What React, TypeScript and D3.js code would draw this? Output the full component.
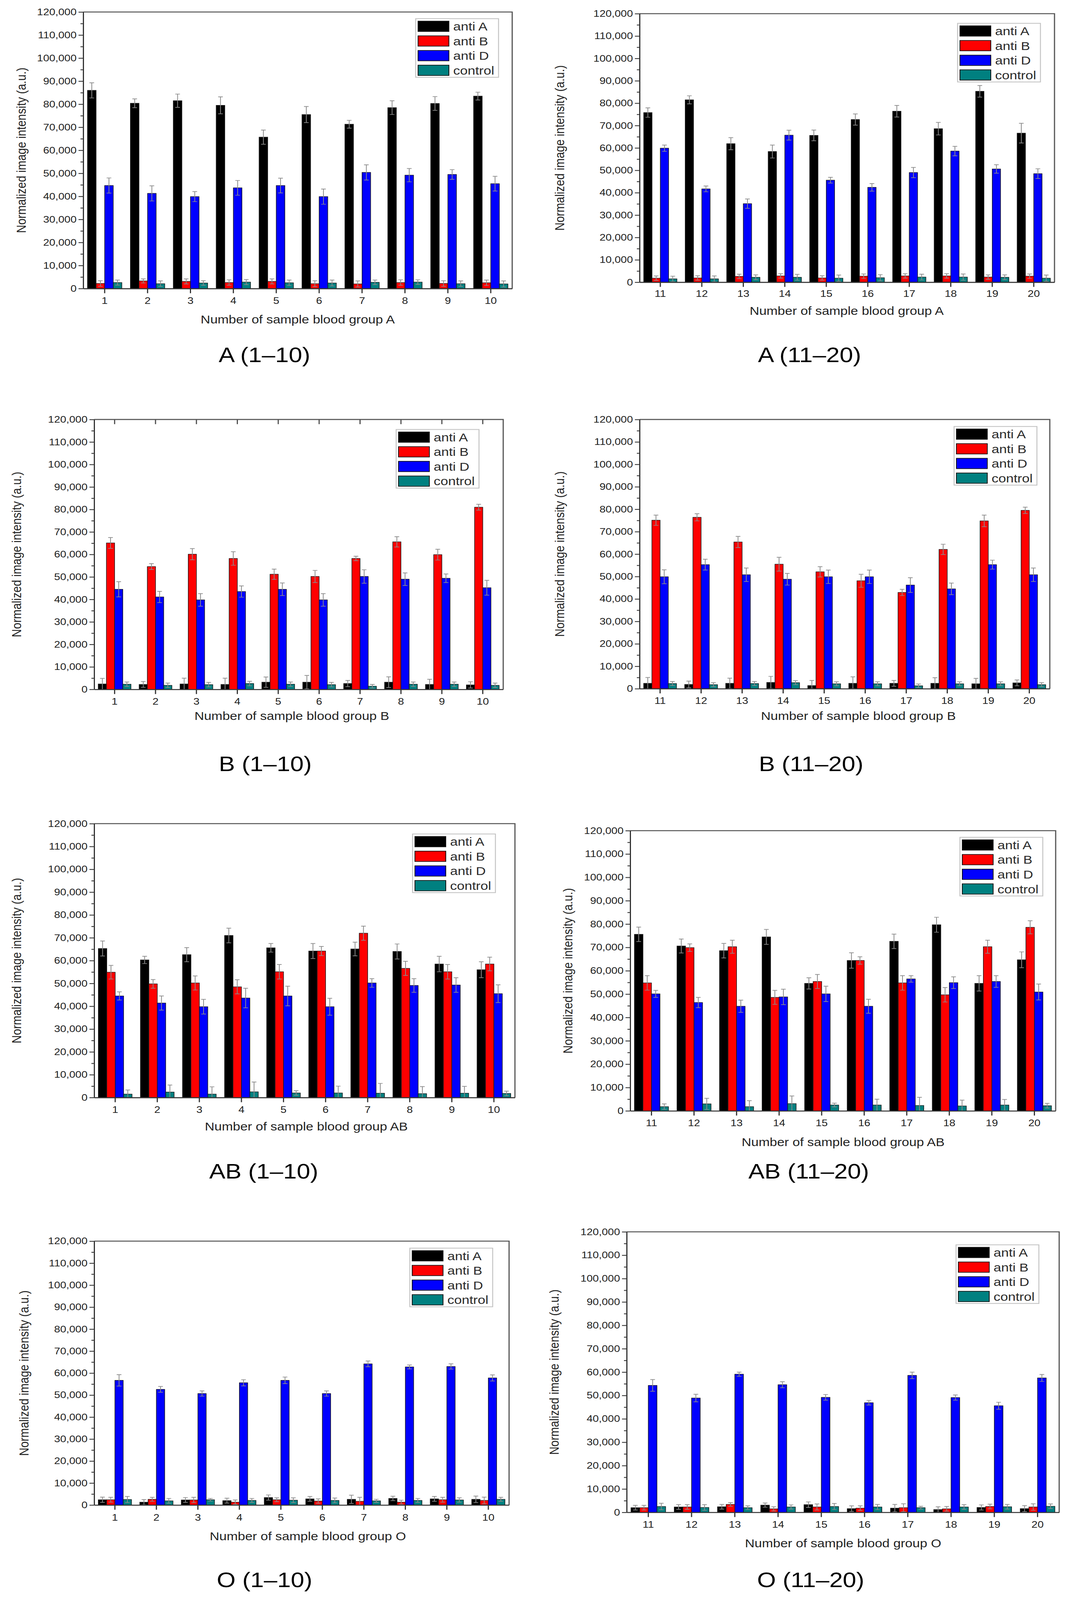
import { useEffect, useRef } from 'react';
import * as d3 from 'd3';

const WIDTH = 2731;
const HEIGHT = 4802;
const FONT = "'Liberation Sans', Arial, Helvetica, sans-serif";

const seriesNames = ['anti A', 'anti B', 'anti D', 'control'];
const seriesColors = ['#000000', '#ff0000', '#0000ff', '#008080'];
const samplesLow = ['1', '2', '3', '4', '5', '6', '7', '8', '9', '10'];
const samplesHigh = ['11', '12', '13', '14', '15', '16', '17', '18', '19', '20'];
const yMajorTicks = [0, 10000, 20000, 30000, 40000, 50000, 60000, 70000, 80000, 90000, 100000, 110000, 120000];
const yMinorTicks = [5000, 15000, 25000, 35000, 45000, 55000, 65000, 75000, 85000, 95000, 105000, 115000];

// blood group A, samples 1-10
const aLowAntiA = [86000, 80400, 81500, 79500, 65700, 75500, 71300, 78500, 80300, 83500];
const aLowAntiAErr = [3300, 1900, 2900, 3700, 3100, 3500, 1700, 3000, 3000, 1700];
const aLowAntiB = [2200, 3300, 3100, 2600, 3100, 2100, 2000, 2600, 2200, 2500];
const aLowAntiBErr = [1200, 900, 1100, 1200, 1100, 1300, 1300, 1200, 1200, 1200];
const aLowAntiD = [44700, 41300, 39900, 43700, 44700, 39900, 50400, 49200, 49500, 45500];
const aLowAntiDErr = [3300, 3300, 2200, 3200, 3200, 3300, 3300, 2900, 2100, 3200];
const aLowControl = [2600, 2100, 2400, 2800, 2500, 2400, 2700, 2800, 2100, 2000];
const aLowControlErr = [1100, 1200, 1000, 1100, 1200, 1300, 1000, 1000, 1200, 1300];

// blood group A, samples 11-20
const aHighAntiA = [75800, 81500, 61900, 58400, 65600, 72700, 76400, 68600, 85300, 66600];
const aHighAntiAErr = [2100, 1800, 2700, 2900, 2400, 2500, 2600, 2800, 2600, 4400];
const aHighAntiB = [1800, 1900, 2600, 2800, 1900, 2700, 2800, 2800, 2300, 2700];
const aHighAntiBErr = [1000, 1000, 1000, 1000, 1000, 1000, 1000, 1000, 1000, 1000];
const aHighAntiD = [59900, 41700, 35100, 65700, 45600, 42400, 49000, 58600, 50600, 48500];
const aHighAntiDErr = [1400, 1300, 2100, 2200, 1300, 1700, 2300, 2100, 1900, 2200];
const aHighControl = [1500, 1500, 2200, 2200, 1800, 2000, 2300, 2300, 2200, 1800];
const aHighControlErr = [1200, 1300, 1100, 1300, 1400, 1400, 1300, 1400, 1100, 1400];

// blood group B, samples 1-10
const bLowAntiA = [2400, 2200, 2400, 2200, 3200, 3200, 2600, 3200, 2200, 2000];
const bLowAntiAErr = [2500, 1300, 2600, 2800, 2300, 3000, 1400, 2400, 2300, 1400];
const bLowAntiB = [65100, 54600, 60100, 58200, 51200, 50200, 58200, 65600, 59900, 81000];
const bLowAntiBErr = [2400, 1300, 2500, 3000, 2300, 2700, 1000, 2300, 2400, 1300];
const bLowAntiD = [44500, 41100, 39800, 43500, 44500, 39800, 50200, 49000, 49400, 45200];
const bLowAntiDErr = [3400, 2500, 2800, 2500, 2800, 2800, 3000, 2800, 1900, 3300];
const bLowControl = [2300, 1800, 2100, 2600, 2300, 2100, 1400, 2300, 2300, 1800];
const bLowControlErr = [1000, 1000, 1000, 1000, 1000, 1000, 800, 1000, 1000, 1000];

// blood group B, samples 11-20
const bHighAntiA = [2400, 1900, 2400, 2800, 1400, 2400, 2400, 2400, 2200, 2600];
const bHighAntiAErr = [2600, 1500, 2300, 2700, 2300, 2900, 1300, 2500, 2400, 1300];
const bHighAntiB = [75100, 76400, 65400, 55500, 52100, 48100, 42900, 62100, 74800, 79500];
const bHighAntiBErr = [2300, 1600, 2500, 3100, 2300, 2900, 1400, 2300, 2600, 1400];
const bHighAntiD = [49900, 55300, 50800, 48800, 49900, 49900, 46200, 44500, 55300, 50800];
const bHighAntiDErr = [3100, 2400, 3000, 2600, 3000, 3000, 3300, 2600, 2000, 3000];
const bHighControl = [2300, 1800, 2300, 2700, 2200, 2200, 1300, 2200, 2200, 1800];
const bHighControlErr = [900, 900, 900, 900, 900, 900, 800, 900, 900, 900];

// blood group AB, samples 1-10
const abLowAntiA = [65300, 60300, 62600, 71000, 65600, 64200, 65100, 64000, 58500, 56000];
const abLowAntiAErr = [3300, 1600, 3100, 3200, 1900, 3300, 3000, 3300, 3400, 3500];
const abLowAntiB = [54900, 49800, 50200, 48500, 55100, 64200, 72000, 56600, 55100, 58500];
const abLowAntiBErr = [3000, 1900, 3100, 3100, 3200, 2000, 3100, 3100, 3200, 3000];
const abLowAntiD = [44500, 41400, 39800, 43600, 44500, 39800, 50200, 49100, 49300, 45500];
const abLowAntiDErr = [1800, 3100, 3200, 4300, 4300, 3700, 1900, 3000, 3200, 3900];
const abLowControl = [1500, 2400, 1500, 2500, 2000, 2000, 1900, 1700, 1900, 1800];
const abLowControlErr = [1800, 3100, 3200, 4300, 1000, 3000, 4300, 3100, 3000, 1000];

// blood group AB, samples 11-20
const abHighAntiA = [75600, 70600, 68600, 74500, 54600, 64400, 72600, 79700, 54600, 64700];
const abHighAntiAErr = [3100, 3000, 3100, 3200, 2400, 3300, 3100, 3200, 3300, 3400];
const abHighAntiB = [54800, 69900, 70300, 48600, 55400, 64400, 54800, 49700, 70300, 78600];
const abHighAntiBErr = [3100, 1600, 2800, 3000, 3000, 1600, 3100, 3100, 2800, 2800];
const abHighAntiD = [50100, 46400, 44800, 48800, 50100, 44800, 56500, 54900, 55400, 50900];
const abHighAntiDErr = [1500, 2200, 2600, 3300, 3300, 3000, 1400, 2500, 2500, 3400];
const abHighControl = [1800, 3000, 1800, 3100, 2500, 2500, 2300, 2100, 2500, 2200];
const abHighControlErr = [1200, 2400, 2600, 3300, 800, 2500, 3500, 2500, 2400, 1000];

// blood group O, samples 1-10
const oLowAntiA = [2400, 1300, 2300, 2000, 3400, 2800, 2600, 3000, 2800, 2600];
const oLowAntiAErr = [1200, 1200, 1100, 1100, 1200, 1100, 1900, 1000, 1100, 1500];
const oLowAntiB = [2400, 2600, 2300, 1300, 2400, 1800, 1700, 1300, 2400, 2100];
const oLowAntiBErr = [1100, 900, 1200, 1000, 900, 1000, 1800, 900, 1100, 1500];
const oLowAntiD = [56700, 52600, 50700, 55600, 56700, 50700, 64200, 62800, 63000, 57800];
const oLowAntiDErr = [2600, 1300, 1200, 1400, 1500, 1200, 1300, 900, 1200, 1400];
const oLowControl = [2500, 1900, 2400, 2100, 2200, 2100, 1900, 2100, 2300, 2600];
const oLowControlErr = [1400, 1100, 600, 900, 1100, 1100, 700, 900, 1000, 900];

// blood group O, samples 11-20
const oHighAntiA = [2000, 2300, 2400, 3100, 3300, 1600, 1800, 1200, 2100, 1600];
const oHighAntiAErr = [1000, 1000, 1000, 900, 1200, 1200, 1600, 1200, 1100, 1300];
const oHighAntiB = [2000, 2300, 3400, 1500, 2300, 1800, 2000, 1500, 2500, 2300];
const oHighAntiBErr = [1000, 1000, 800, 900, 1300, 1000, 1700, 1000, 1000, 1400];
const oHighAntiD = [54300, 48900, 59100, 54600, 49200, 46900, 58600, 49100, 45600, 57500];
const oHighAntiDErr = [2500, 1600, 900, 1300, 1200, 1000, 1400, 1100, 1500, 1500];
const oHighControl = [2500, 2100, 2000, 2300, 2500, 2300, 2000, 2300, 2400, 2600];
const oHighControlErr = [1400, 1200, 800, 900, 1300, 1100, 600, 1000, 1000, 1000];

interface Panel {
  caption: string;
  xTitle: string;
  samples: string[];
  values: number[][];
  errors: number[][];
}

const panels: Panel[] = [
  { caption: 'A (1–10)', xTitle: 'Number of sample blood group A', samples: samplesLow,
    values: [aLowAntiA, aLowAntiB, aLowAntiD, aLowControl], errors: [aLowAntiAErr, aLowAntiBErr, aLowAntiDErr, aLowControlErr] },
  { caption: 'A (11–20)', xTitle: 'Number of sample blood group A', samples: samplesHigh,
    values: [aHighAntiA, aHighAntiB, aHighAntiD, aHighControl], errors: [aHighAntiAErr, aHighAntiBErr, aHighAntiDErr, aHighControlErr] },
  { caption: 'B (1–10)', xTitle: 'Number of sample blood group B', samples: samplesLow,
    values: [bLowAntiA, bLowAntiB, bLowAntiD, bLowControl], errors: [bLowAntiAErr, bLowAntiBErr, bLowAntiDErr, bLowControlErr] },
  { caption: 'B (11–20)', xTitle: 'Number of sample blood group B', samples: samplesHigh,
    values: [bHighAntiA, bHighAntiB, bHighAntiD, bHighControl], errors: [bHighAntiAErr, bHighAntiBErr, bHighAntiDErr, bHighControlErr] },
  { caption: 'AB (1–10)', xTitle: 'Number of sample blood group AB', samples: samplesLow,
    values: [abLowAntiA, abLowAntiB, abLowAntiD, abLowControl], errors: [abLowAntiAErr, abLowAntiBErr, abLowAntiDErr, abLowControlErr] },
  { caption: 'AB (11–20)', xTitle: 'Number of sample blood group AB', samples: samplesHigh,
    values: [abHighAntiA, abHighAntiB, abHighAntiD, abHighControl], errors: [abHighAntiAErr, abHighAntiBErr, abHighAntiDErr, abHighControlErr] },
  { caption: 'O (1–10)', xTitle: 'Number of sample blood group O', samples: samplesLow,
    values: [oLowAntiA, oLowAntiB, oLowAntiD, oLowControl], errors: [oLowAntiAErr, oLowAntiBErr, oLowAntiDErr, oLowControlErr] },
  { caption: 'O (11–20)', xTitle: 'Number of sample blood group O', samples: samplesHigh,
    values: [oHighAntiA, oHighAntiB, oHighAntiD, oHighControl], errors: [oHighAntiAErr, oHighAntiBErr, oHighAntiDErr, oHighControlErr] },
];

// where each sub-figure sits on the page
interface Frame {
  left: number; top: number; right: number; bottom: number;
  yTitleX: number; tickY: number; xTitleX: number; xTitleY: number;
  capX: number; capY: number; legendX: number; legendY: number;
  topTicks?: boolean;
}

const frames: Frame[] = [
  { left: 213, top: 36, right: 1311, bottom: 866, yTitleX: 54, tickY: 902, xTitleX: 762, xTitleY: 958, capX: 677, capY: 1065, legendX: 1064, legendY: 56 },
  { left: 1637, top: 41, right: 2699, bottom: 847, yTitleX: 1432, tickY: 881, xTitleX: 2167, xTitleY: 933, capX: 2072, capY: 1064, legendX: 2451, legendY: 70 },
  { left: 241, top: 1259, right: 1288, bottom: 2069, yTitleX: 42, tickY: 2105, xTitleX: 747, xTitleY: 2149, capX: 679, capY: 2292, legendX: 1014, legendY: 1289, topTicks: true },
  { left: 1637, top: 1259, right: 2687, bottom: 2067, yTitleX: 1432, tickY: 2103, xTitleX: 2197, xTitleY: 2149, capX: 2076, capY: 2292, legendX: 2442, legendY: 1280 },
  { left: 241, top: 2472, right: 1318, bottom: 3294, yTitleX: 42, tickY: 3330, xTitleX: 784, xTitleY: 3381, capX: 675, capY: 3515, legendX: 1056, legendY: 2503 },
  { left: 1613, top: 2493, right: 2702, bottom: 3334, yTitleX: 1453, tickY: 3370, xTitleX: 2158, xTitleY: 3427, capX: 2070, capY: 3515, legendX: 2457, legendY: 2513 },
  { left: 241, top: 3725, right: 1303, bottom: 4517, yTitleX: 61, tickY: 4554, xTitleX: 788, xTitleY: 4610, capX: 677, capY: 4741, legendX: 1049, legendY: 3746 },
  { left: 1604, top: 3697, right: 2711, bottom: 4539, yTitleX: 1418, tickY: 4575, xTitleX: 2158, xTitleY: 4632, capX: 2075, capY: 4741, legendX: 2447, legendY: 3736 },
];

const LEGEND_W = 212;
const LEGEND_H = 176;

function drawPanel(svg: d3.Selection<SVGSVGElement, unknown, null, undefined>, panel: Panel, f: Frame) {
  const g = svg.append('g').attr('font-family', FONT);

  const x = d3.scaleBand<string>()
    .domain(panel.samples)
    .range([f.left, f.right])
    .paddingInner(0.2)
    .paddingOuter(0.1);

  const inner = d3.scaleBand<string>()
    .domain(seriesNames)
    .range([0, x.bandwidth()]);

  const y = d3.scaleLinear().domain([0, 120000]).range([f.bottom, f.top]);

  // top and right frame lines
  g.append('path')
    .attr('d', `M${f.left},${f.top}H${f.right}V${f.bottom}`)
    .attr('fill', 'none')
    .attr('stroke', '#555')
    .attr('stroke-width', 3);

  if (f.topTicks) {
    g.append('g')
      .selectAll('line')
      .data(panel.samples)
      .join('line')
      .attr('x1', d => x(d)! + x.bandwidth() / 2)
      .attr('x2', d => x(d)! + x.bandwidth() / 2)
      .attr('y1', f.top)
      .attr('y2', f.top + 14)
      .attr('stroke', '#505050')
      .attr('stroke-width', 3);
  }

  seriesNames.forEach((name, si) => {
    const vals = panel.values[si];
    const errs = panel.errors[si];
    const sg = g.append('g').attr('class', 'series');

    sg.selectAll('rect')
      .data(vals)
      .join('rect')
      .attr('x', (_, i) => x(panel.samples[i])! + inner(name)!)
      .attr('y', d => y(d))
      .attr('width', inner.bandwidth())
      .attr('height', d => y(0) - y(d))
      .attr('fill', seriesColors[si])
      .attr('stroke', '#1a1a1a')
      .attr('stroke-width', 1.5);

    sg.selectAll('path.err')
      .data(vals)
      .join('path')
      .attr('class', 'err')
      .attr('d', (d, i) => {
        const cx = x(panel.samples[i])! + inner(name)! + inner.bandwidth() / 2;
        const yHi = y(d + errs[i]);
        const yLo = y(Math.max(0, d - errs[i]));
        return `M${cx - 6},${yHi}H${cx + 6}M${cx},${yHi}V${yLo}M${cx - 6},${yLo}H${cx + 6}`;
      })
      .attr('fill', 'none')
      .attr('stroke', '#8a8a8a')
      .attr('stroke-width', 2);
  });

  // left axis, major and minor ticks
  const yAxis = g.append('g')
    .attr('transform', `translate(${f.left},0)`)
    .call(d3.axisLeft(y).tickValues(yMajorTicks).tickFormat(d => d3.format(',')(d as number)).tickSize(12).tickSizeOuter(0).tickPadding(5));
  yAxis.select('.domain').attr('stroke', '#333').attr('stroke-width', 3);
  yAxis.selectAll('.tick line').attr('stroke', '#333').attr('stroke-width', 2.5);
  yAxis.selectAll('.tick text').attr('fill', '#1e1e1e').attr('font-size', 28).attr('font-family', FONT);

  const yMinor = g.append('g')
    .attr('transform', `translate(${f.left},0)`)
    .call(d3.axisLeft(y).tickValues(yMinorTicks).tickFormat(() => '').tickSize(7).tickSizeOuter(0));
  yMinor.select('.domain').remove();
  yMinor.selectAll('.tick line').attr('stroke', '#333').attr('stroke-width', 2.5);

  // bottom axis
  const xAxis = g.append('g')
    .attr('transform', `translate(0,${f.bottom})`)
    .call(d3.axisBottom(x).tickSize(14).tickSizeOuter(0));
  xAxis.select('.domain').attr('stroke', '#333').attr('stroke-width', 3);
  xAxis.selectAll('.tick line').attr('stroke', '#333').attr('stroke-width', 3);
  xAxis.selectAll('.tick text')
    .attr('y', f.tickY - f.bottom)
    .attr('dy', '0.36em')
    .attr('fill', '#1e1e1e')
    .attr('font-size', 28)
    .attr('font-family', FONT);

  g.append('text')
    .attr('transform', `translate(${f.yTitleX},${(f.top + f.bottom) / 2}) rotate(-90)`)
    .attr('text-anchor', 'middle')
    .attr('dy', '0.36em')
    .attr('font-size', 34)
    .attr('fill', '#222')
    .text('Normalized image intensity (a.u.)');

  g.append('text')
    .attr('x', f.xTitleX)
    .attr('y', f.xTitleY)
    .attr('dy', '0.36em')
    .attr('text-anchor', 'middle')
    .attr('font-size', 34)
    .attr('fill', '#222')
    .text(panel.xTitle);

  g.append('text')
    .attr('x', f.capX)
    .attr('y', f.capY)
    .attr('dy', '0.36em')
    .attr('text-anchor', 'middle')
    .attr('font-size', 62)
    .attr('fill', '#000')
    .text(panel.caption);

  // legend
  const lg = g.append('g').attr('transform', `translate(${f.legendX},${f.legendY})`);
  lg.append('rect')
    .attr('width', LEGEND_W)
    .attr('height', LEGEND_H)
    .attr('fill', '#fff')
    .attr('stroke', '#c4c4c4')
    .attr('stroke-width', 2.5);

  const row = d3.scaleBand<string>().domain(seriesNames).range([1, LEGEND_H + 1]);
  const items = lg.selectAll('g.item')
    .data(seriesNames)
    .join('g')
    .attr('class', 'item')
    .attr('transform', d => `translate(0,${row(d)! + row.bandwidth() / 2})`);

  items.append('rect')
    .attr('x', 6)
    .attr('y', -15.5)
    .attr('width', 79)
    .attr('height', 31)
    .attr('fill', (_, i) => seriesColors[i])
    .attr('stroke', '#111')
    .attr('stroke-width', 2);

  items.append('text')
    .attr('x', 96)
    .attr('dy', '0.36em')
    .attr('font-size', 35)
    .attr('fill', '#2a2a2a')
    .text(d => d);
}

export default function App() {
  const svgRef = useRef<SVGSVGElement>(null);

  useEffect(() => {
    if (!svgRef.current) return;
    const svg = d3.select(svgRef.current);
    svg.selectAll('*').remove();

    svg.append('rect').attr('width', WIDTH).attr('height', HEIGHT).attr('fill', '#fff');

    panels.forEach((p, i) => drawPanel(svg, p, frames[i]));
  }, []);

  // the browser window may be shorter than the figure, so the whole figure is fitted into it
  return (
    <div style={{ position: 'fixed', left: 0, top: 0, width: '100vw', height: '100vh', overflow: 'hidden', background: '#fff' }}>
      <svg
        ref={svgRef}
        viewBox={`0 0 ${WIDTH} ${HEIGHT}`}
        preserveAspectRatio="none"
        width="100%"
        height="100%"
        style={{ display: 'block' }}
      />
    </div>
  );
}
